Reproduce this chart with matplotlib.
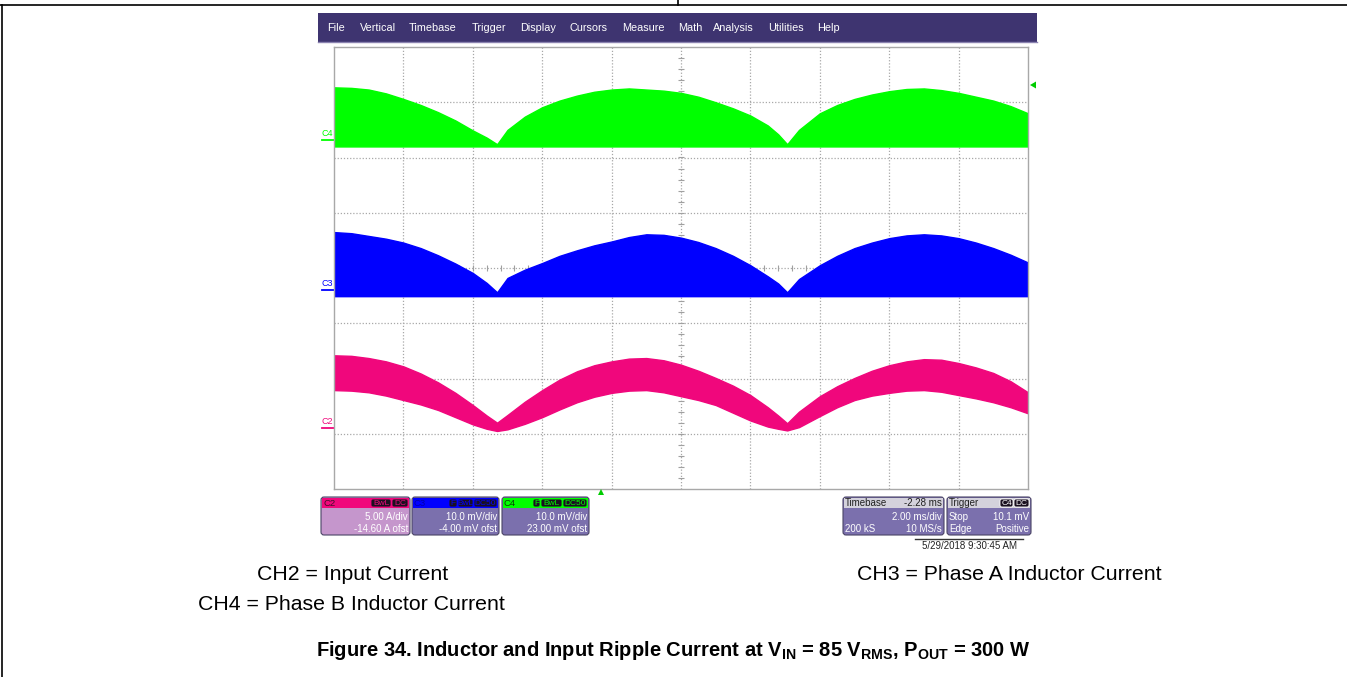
import numpy as np
import matplotlib.pyplot as plt
from matplotlib.patches import Rectangle, FancyBboxPatch, Polygon

plt.rcParams['font.family'] = ['Liberation Sans', 'DejaVu Sans']
plt.rcParams['mathtext.default'] = 'regular'

# time axis in scope divisions (2 ms/div), values in vertical divisions (0..8)
x_div = [0, 0.25, 0.5, 0.75, 1, 1.25, 1.5, 1.75, 2, 2.2, 2.35,
         2.5, 2.75, 3, 3.25, 3.5, 3.75, 4, 4.25, 4.5, 4.75, 5,
         5.25, 5.5, 5.75, 6, 6.25, 6.4, 6.53,
         6.7, 7, 7.25, 7.5, 7.75, 8, 8.25, 8.5, 8.75, 9,
         9.25, 9.5, 9.75, 10]

# C4 - phase B inductor current (green)
c4_top = [7.27, 7.26, 7.23, 7.16, 7.06, 6.95, 6.82, 6.67, 6.49, 6.36, 6.24,
          6.50, 6.74, 6.91, 7.03, 7.12, 7.19, 7.23, 7.25, 7.23, 7.21, 7.17,
          7.10, 7.00, 6.89, 6.76, 6.58, 6.42, 6.24,
          6.50, 6.80, 6.95, 7.06, 7.14, 7.20, 7.24, 7.25, 7.22, 7.17,
          7.10, 7.03, 6.93, 6.80]
c4_bot = [6.20] * len(x_div)

# C3 - phase A inductor current (blue)
c3_top = [4.65, 4.63, 4.58, 4.53, 4.46, 4.36, 4.23, 4.08, 3.91, 3.73, 3.56,
          3.82, 3.97, 4.09, 4.22, 4.32, 4.41, 4.48, 4.56, 4.61, 4.60, 4.55,
          4.47, 4.36, 4.22, 4.05, 3.85, 3.72, 3.56,
          3.80, 4.05, 4.22, 4.36, 4.46, 4.54, 4.59, 4.61, 4.59, 4.54,
          4.46, 4.36, 4.24, 4.10]
c3_bot = [3.49] * len(x_div)

# C2 - input current (pink)
c2_top = [2.42, 2.41, 2.37, 2.31, 2.22, 2.09, 1.93, 1.74, 1.52, 1.33, 1.20,
          1.34, 1.58, 1.79, 1.98, 2.13, 2.24, 2.31, 2.36, 2.37, 2.33, 2.25,
          2.14, 2.01, 1.87, 1.70, 1.48, 1.33, 1.19,
          1.40, 1.68, 1.86, 2.01, 2.14, 2.24, 2.31, 2.35, 2.34, 2.28,
          2.20, 2.10, 1.95, 1.75]
c2_bot = [1.79, 1.78, 1.75, 1.69, 1.61, 1.53, 1.43, 1.30, 1.17, 1.09, 1.05,
          1.08, 1.18, 1.30, 1.44, 1.57, 1.67, 1.74, 1.78, 1.79, 1.75, 1.68,
          1.61, 1.52, 1.38, 1.24, 1.13, 1.09, 1.06,
          1.12, 1.32, 1.48, 1.61, 1.69, 1.74, 1.78, 1.79, 1.76, 1.70,
          1.64, 1.57, 1.48, 1.37]

menu_items = ['File', 'Vertical', 'Timebase', 'Trigger', 'Display', 'Cursors',
              'Measure', 'Math', 'Analysis', 'Utilities', 'Help']
menu_x = [327, 360, 409, 472, 520, 569, 622, 678, 713, 768, 817]

green = '#00ff00'
blue = '#0000ff'
pink = '#f0077c'
purple = '#3e3470'
body = '#7b70ad'

W, H = 1347, 677
fig = plt.figure(figsize=(W / 100, H / 100), dpi=100)

# ---- scope graticule ----
gx0, gx1, gy0, gy1 = 334, 1028, 47, 489
ax = fig.add_axes([gx0 / W, 1 - gy1 / H, (gx1 - gx0) / W, (gy1 - gy0) / H], zorder=1)
ax.set_xlim(0, 10)
ax.set_ylim(0, 8)
ax.set_xticks([])
ax.set_yticks([])
for s in ax.spines.values():
    s.set_color('#a8a8a8')
    s.set_linewidth(1.0)
for i in range(1, 10):
    ax.axvline(i, color='#a8a8a8', lw=0.9, ls=(0, (1, 1.5)), zorder=0)
for j in range(1, 8):
    ax.axhline(j, color='#a8a8a8', lw=0.9, ls=(0, (1, 1.5)), zorder=0)
# center ticks
tx = np.arange(0.2, 10, 0.2)
ty = np.arange(0.2, 8, 0.2)
ax.plot(tx, np.full_like(tx, 4), ls='none', marker='|', ms=4, color='#a0a0a0', mew=0.8, zorder=0)
ax.plot(np.full_like(ty, 5), ty, ls='none', marker='_', ms=4, color='#a0a0a0', mew=0.8, zorder=0)

ax.fill_between(x_div, c4_bot, c4_top, color=green, lw=1.0, ec=green, zorder=2)
ax.fill_between(x_div, c3_bot, c3_top, color=blue, lw=1.0, ec=blue, zorder=2)
ax.fill_between(x_div, c2_bot, c2_top, color=pink, lw=1.0, ec=pink, zorder=2)

# ---- overlay in pixel coordinates ----
ov = fig.add_axes([0, 0, 1, 1], zorder=2)
ov.set_xlim(0, W)
ov.set_ylim(H, 0)
ov.axis('off')
ov.patch.set_alpha(0)

# page frame
ov.plot([0, W], [5, 5], color='black', lw=1.2)
ov.plot([678, 678], [0, 5], color='black', lw=1.2)
ov.plot([2, 2], [5, H], color='black', lw=1.2)

# menu bar
ov.add_patch(Rectangle((318, 13), 719, 29, fc=purple, ec='none'))
ov.plot([318, 1037], [41.5, 41.5], color='#8a82b0', lw=1)
for lab, x in zip(menu_items, menu_x):
    ov.text(x, 28, lab, color='white', fontsize=7.8, va='center', ha='left')

# channel markers
for lab, y, col in [('C4', 133, green), ('C3', 283, blue), ('C2', 421, pink)]:
    ov.text(322, y, lab, color=col, fontsize=6.5, va='center', ha='left')
    ov.plot([322, 333], [y + 7, y + 7], color=col, lw=1.3)
ov.add_patch(Polygon([[1030, 85], [1036, 81.5], [1036, 88.5]], fc='#00cc00', ec='none'))
ov.add_patch(Polygon([[598, 495], [604, 495], [601, 489]], fc='#00cc00', ec='none'))


def badge(x0, x1, label, col):
    ov.add_patch(FancyBboxPatch((x0, 499), x1 - x0, 8, boxstyle='round,pad=0,rounding_size=2',
                                fc='#1a1020', ec=col, lw=0.6))
    ov.text((x0 + x1) / 2, 503.5, label, color=col, fontsize=6, ha='center', va='center')


def box(x0, x1, head, bodycol):
    ov.add_patch(FancyBboxPatch((x0, 497), x1 - x0, 38, boxstyle='round,pad=0,rounding_size=3',
                                fc=bodycol, ec='#4a4466', lw=0.8))
    ov.add_patch(Rectangle((x0 + 1, 498), x1 - x0 - 2, 10, fc=head, ec='none'))


# channel boxes
box(321, 410, pink, '#c596cc')
ov.text(323, 503, 'C2', color='#40102a', fontsize=6.8, va='center')
badge(371, 391, 'BwL', pink)
badge(392, 408, 'DC', pink)
ov.text(408, 517, '5.00 A/div', color='white', fontsize=7, ha='right', va='center')
ov.text(408, 529, '-14.60 A ofst', color='white', fontsize=7, ha='right', va='center')

box(412, 499, blue, body)
ov.text(414, 503, 'C3', color='#0000aa', fontsize=6.8, va='center')
badge(449, 457, 'F', blue)
badge(458, 473, 'BwL', blue)
badge(474, 497, 'DC50', blue)
ov.text(497, 517, '10.0 mV/div', color='white', fontsize=7, ha='right', va='center')
ov.text(497, 529, '-4.00 mV ofst', color='white', fontsize=7, ha='right', va='center')

box(502, 589, green, body)
ov.text(504, 503, 'C4', color='#0a3a0a', fontsize=6.8, va='center')
badge(533, 540, 'F', green)
badge(541, 562, 'BwL', green)
badge(563, 587, 'DC50', green)
ov.text(587, 517, '10.0 mV/div', color='white', fontsize=7, ha='right', va='center')
ov.text(587, 529, '23.00 mV ofst', color='white', fontsize=7, ha='right', va='center')

# timebase / trigger boxes
box(843, 944, '#d4d2dc', body)
ov.text(845, 503, 'Timebase', color='#202020', fontsize=7, va='center')
ov.text(942, 503, '-2.28 ms', color='#202020', fontsize=7, va='center', ha='right')
ov.text(942, 517, '2.00 ms/div', color='white', fontsize=7, ha='right', va='center')
ov.text(845, 529, '200 kS', color='white', fontsize=7, ha='left', va='center')
ov.text(942, 529, '10 MS/s', color='white', fontsize=7, ha='right', va='center')

box(947, 1031, '#d4d2dc', body)
ov.text(949, 503, 'Trigger', color='#202020', fontsize=7, va='center')
badge(1000, 1013, 'C4', 'white')
badge(1014, 1029, 'DC', 'white')
ov.text(949, 517, 'Stop', color='white', fontsize=7, ha='left', va='center')
ov.text(1029, 517, '10.1 mV', color='white', fontsize=7, ha='right', va='center')
ov.text(949, 529, 'Edge', color='white', fontsize=7, ha='left', va='center')
ov.text(1029, 529, 'Positive', color='white', fontsize=7, ha='right', va='center')

ov.plot([915, 1023], [538.5, 538.5], color='#333333', lw=1)
ov.text(969, 546, '5/29/2018 9:30:45 AM', color='#222222', fontsize=7, ha='center', va='center')

# captions
ov.text(257, 575, 'CH2 = Input Current', fontsize=15.3, va='center', ha='left')
ov.text(857, 575, 'CH3 = Phase A Inductor Current', fontsize=15.3, va='center', ha='left')
ov.text(198, 605, 'CH4 = Phase B Inductor Current', fontsize=15.3, va='center', ha='left')
ov.text(673, 650, r'Figure 34. Inductor and Input Ripple Current at V$_{IN}$ = 85 V$_{RMS}$, '
        r'P$_{OUT}$ = 300 W', fontsize=14.5, fontweight='bold', va='center', ha='center')

fig.savefig('out.png', dpi=100)
